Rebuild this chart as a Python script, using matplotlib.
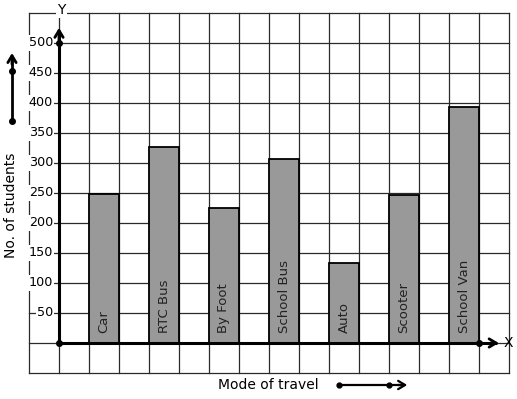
import matplotlib
matplotlib.use("Agg")
import matplotlib.pyplot as plt

categories = ["Car", "RTC Bus", "By Foot", "School Bus", "Auto", "Scooter", "School Van"]
students = [248, 327, 225, 307, 133, 247, 393]
bar_positions = [1.5, 3.5, 5.5, 7.5, 9.5, 11.5, 13.5]
y_ticks = [50, 100, 150, 200, 250, 300, 350, 400, 450, 500]

W, H = 517, 399
fig = plt.figure(figsize=(W / 100, H / 100), dpi=100)
ax = fig.add_axes([29 / W, (H - 373) / H, 480 / W, 360 / H])
ax.set_xlim(-1, 15)
ax.set_ylim(-50, 550)
ax.set_axis_off()

grid_c = "#2a2a2a"
for gx in range(-1, 16):
    ax.plot([gx, gx], [-50, 550], color=grid_c, lw=0.9, zorder=1, clip_on=False)
for gy in range(-50, 551, 50):
    ax.plot([-1, 15], [gy, gy], color=grid_c, lw=0.9, zorder=1, clip_on=False)

ax.bar(bar_positions, students, width=1.0, color="#999999", edgecolor="black",
       linewidth=1.3, zorder=2)

for x, lab in zip(bar_positions, categories):
    ax.text(x, 16, lab, rotation=90, ha="center", va="bottom", fontsize=9.5,
            color="#222222", zorder=3)

for v in y_ticks:
    ax.text(-0.2, v, str(v), ha="right", va="center", fontsize=9.2, color="black",
            zorder=4, bbox=dict(boxstyle="square,pad=0.08", fc="white", ec="none"))

# axes lines
ax.plot([0, 0], [0, 520], color="black", lw=2.2, zorder=5, clip_on=False, solid_capstyle="butt")
ax.plot([0, 14.6], [0, 0], color="black", lw=2.2, zorder=5, clip_on=False, solid_capstyle="butt")
ax.annotate("", xy=(0, 530), xytext=(0, 500), annotation_clip=False,
            arrowprops=dict(arrowstyle="->,head_length=0.5,head_width=0.3", lw=2, color="black"), zorder=5)
ax.annotate("", xy=(14.75, 0), xytext=(14.3, 0), annotation_clip=False,
            arrowprops=dict(arrowstyle="->,head_length=0.5,head_width=0.3", lw=2, color="black"), zorder=5)
ax.plot([0, 0, 14], [0, 500, 0], "o", color="black", ms=4, zorder=6, clip_on=False)

ax.text(0.07, 555, "Y", ha="center", va="center", fontsize=10, zorder=6,
        bbox=dict(boxstyle="square,pad=0.1", fc="white", ec="none"))
ax.text(14.97, 0, "X", ha="center", va="center", fontsize=10, zorder=6)

# y label with arrow
ax.text(-1.6, 229, "No. of students", rotation=90, ha="center", va="center", fontsize=10)
ax.plot([-1.567, -1.567], [370, 470], color="black", lw=2, clip_on=False)
ax.annotate("", xy=(-1.567, 488), xytext=(-1.567, 460), annotation_clip=False,
            arrowprops=dict(arrowstyle="->,head_length=0.5,head_width=0.3", lw=2, color="black"))
ax.plot([-1.567, -1.567], [370.5, 454], "o", color="black", ms=4, clip_on=False)

# x label with arrow
ax.text(6.97, -70, "Mode of travel", ha="center", va="center", fontsize=10)
ax.plot([9.33, 11.4], [-70, -70], color="black", lw=1.6, clip_on=False)
ax.annotate("", xy=(11.7, -70), xytext=(11.2, -70), annotation_clip=False,
            arrowprops=dict(arrowstyle="->,head_length=0.5,head_width=0.3", lw=1.6, color="black"))
ax.plot([9.33, 11.0], [-70, -70], "o", color="black", ms=3.5, clip_on=False)

fig.savefig("out.png", dpi=100, facecolor="white")
